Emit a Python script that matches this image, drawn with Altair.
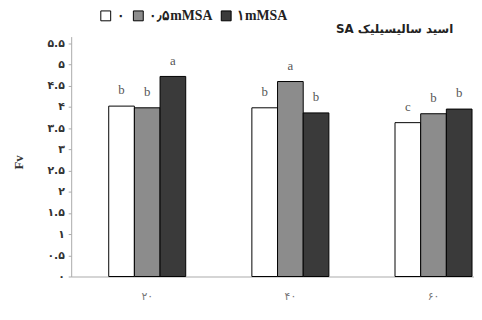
import altair as alt
import pandas as pd

# ---- data ----
groups = ["۲۰", "۴۰", "۶۰"]
series = ["۰", "۰٫۵mMSA", "۱mMSA"]
vals_control = [4.02, 3.98, 3.63]
vals_low = [3.98, 4.60, 3.84]
vals_high = [4.72, 3.86, 3.95]
letters_control = ["b", "b", "c"]
letters_low = ["b", "a", "b"]
letters_high = ["a", "b", "b"]
y_tick_labels = ["۰", "۰.۵", "۱", "۱.۵", "۲", "۲.۵", "۳", "۳.۵", "۴", "۴.۵", "۵", "۵.۵"]
colors = ["#ffffff", "#8c8c8c", "#3a3a3a"]
y_title = "Fv"
chart_title = ["SA اسید سالیسیلیک"]

rows = []
for vals, lets, s in [(vals_control, letters_control, series[0]),
                      (vals_low, letters_low, series[1]),
                      (vals_high, letters_high, series[2])]:
    for g, v, l in zip(groups, vals, lets):
        rows.append({"group": g, "series": s, "value": v, "letter": l})
df = pd.DataFrame(rows)

label_expr = "[" + ",".join("'%s'" % t for t in y_tick_labels) + "][round(datum.value*2)]"

x_enc = alt.X("group:N", sort=groups,
              scale=alt.Scale(paddingInner=0.462, paddingOuter=0.138, align=0.95),
              axis=alt.Axis(title=None, labelAngle=0, ticks=False, labelPadding=14,
                            labelFont="DejaVu Sans", labelFontSize=11, labelColor="#777",
                            domainColor="#aaa"))
xo_enc = alt.XOffset("series:N", sort=series,
                     scale=alt.Scale(paddingInner=0, paddingOuter=0))
y_enc = alt.Y("value:Q",
              scale=alt.Scale(domain=[0, 5.66], nice=False),
              axis=alt.Axis(tickCount=12, labelExpr=label_expr, title=y_title,
                            labelOverlap=False, labelSeparation=0,
                            titleAngle=270, titleX=-46, titleY=127,
                            titleFont="Liberation Serif", titleFontSize=13,
                            titleColor="#333", grid=False, tickSize=3,
                            tickColor="#aaa", domainColor="#aaa",
                            labelFont="DejaVu Sans", labelFontSize=11,
                            labelFontWeight="bold",
                            labelColor="#333", labelPadding=4))

bars = alt.Chart(df).mark_bar(stroke="black", strokeWidth=1).encode(
    x=x_enc, xOffset=xo_enc, y=y_enc,
    color=alt.Color("series:N", sort=series,
                    scale=alt.Scale(domain=series, range=colors),
                    legend=alt.Legend(orient="none", legendX=28, legendY=-28,
                                      direction="horizontal", title=None,
                                      symbolType="square", symbolSize=100,
                                      symbolStrokeColor="black", symbolStrokeWidth=1,
                                      labelFont="Liberation Serif", labelFontSize=14,
                                      labelFontWeight="bold", labelColor="#222",
                                      columnPadding=7, labelOffset=4))
)

texts = alt.Chart(df).mark_text(baseline="bottom", dy=-9, font="Liberation Serif",
                                fontSize=13, color="#555").encode(
    x=alt.X("group:N", sort=groups), xOffset=alt.XOffset("series:N", sort=series),
    y="value:Q", text="letter:N"
)

title_layer = alt.Chart(pd.DataFrame({"t": chart_title})).mark_text(
    align="right", baseline="middle", font="DejaVu Sans", fontSize=12,
    fontWeight="bold", color="#222"
).encode(x=alt.value(387), y=alt.value(-8), text="t:N")

chart = alt.layer(bars, texts, title_layer).properties(
    width=408, height=243,
    padding={"left": 64, "top": 27, "right": 0, "bottom": 35},
    autosize=alt.AutoSizeParams(type="none"),
).configure_view(stroke=None)

chart.save("out.html", embed_options={"renderer": "svg", "actions": False})
